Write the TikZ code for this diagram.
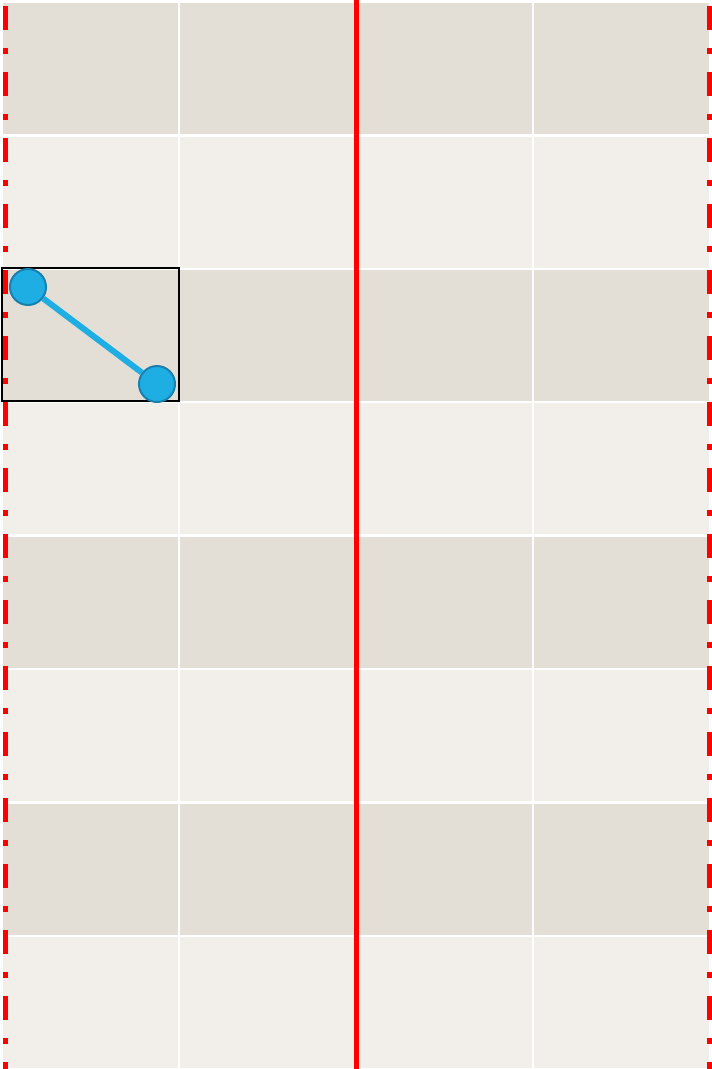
\documentclass[tikz,border=0pt]{standalone}
\usepackage{tikz}
\usetikzlibrary{calc, positioning}
\usepackage{xcolor}

\definecolor{celldark}{HTML}{E3DFD7}
\definecolor{celllight}{HTML}{F2EFEA}
\definecolor{jointblue}{HTML}{1EAEE3}
\definecolor{jointedge}{HTML}{1A80AD}

\begin{document}
\begin{tikzpicture}[
        x=1pt, y=-1pt,
        cell/.style={draw=white, line width=2.5pt},
        guide/.style={draw=red, line width=5pt},
        guidedash/.style={guide, dash pattern=on 24pt off 18pt on 6pt off 18pt},
        joint/.style={
            circle, draw=jointedge, line width=2pt, fill=jointblue,
            minimum size=36pt, inner sep=0pt
        },
        link/.style={draw=jointblue, line width=6pt},
        frame/.style={draw=black, line width=2pt}
    ]

    \useasboundingbox (0,0) rectangle (712,1069);
    \fill[white] (0,0) rectangle (712,1069);

    % grid of cells, rows alternate dark and light
    \foreach \row in {0,...,7} {
        \pgfmathsetmacro{\shade}{mod(\row,2)==0 ? 1 : 0}
        \foreach \col in {0,...,3} {
            \ifdim\shade pt>0.5pt
                \filldraw[cell, fill=celldark] ({2+177*\col},{2+133.4*\row}) rectangle ++(177,133.4);
            \else
                \filldraw[cell, fill=celllight] ({2+177*\col},{2+133.4*\row}) rectangle ++(177,133.4);
            \fi
        }
    }

    % guide lines
    \coordinate (lefttop) at (5,6);
    \coordinate (leftbot) at (5,1069);
    \coordinate (midtop) at (356,0);
    \coordinate (midbot) at (356,1069);
    \coordinate (righttop) at (709,6);
    \coordinate (rightbot) at (709,1069);

    \draw [guidedash] (lefttop) -- (leftbot);
    \draw [guidedash] (righttop) -- (rightbot);
    \draw [guide] (midtop) -- (midbot);

    % selected cell
    \draw [frame] (2,268) rectangle (179,401);

    % link with two joints
    \node [joint] (start) at (28,287) {};
    \node [joint] (end) at (157,384) {};
    \draw [link] (start) -- (end);

\end{tikzpicture}
\end{document}
